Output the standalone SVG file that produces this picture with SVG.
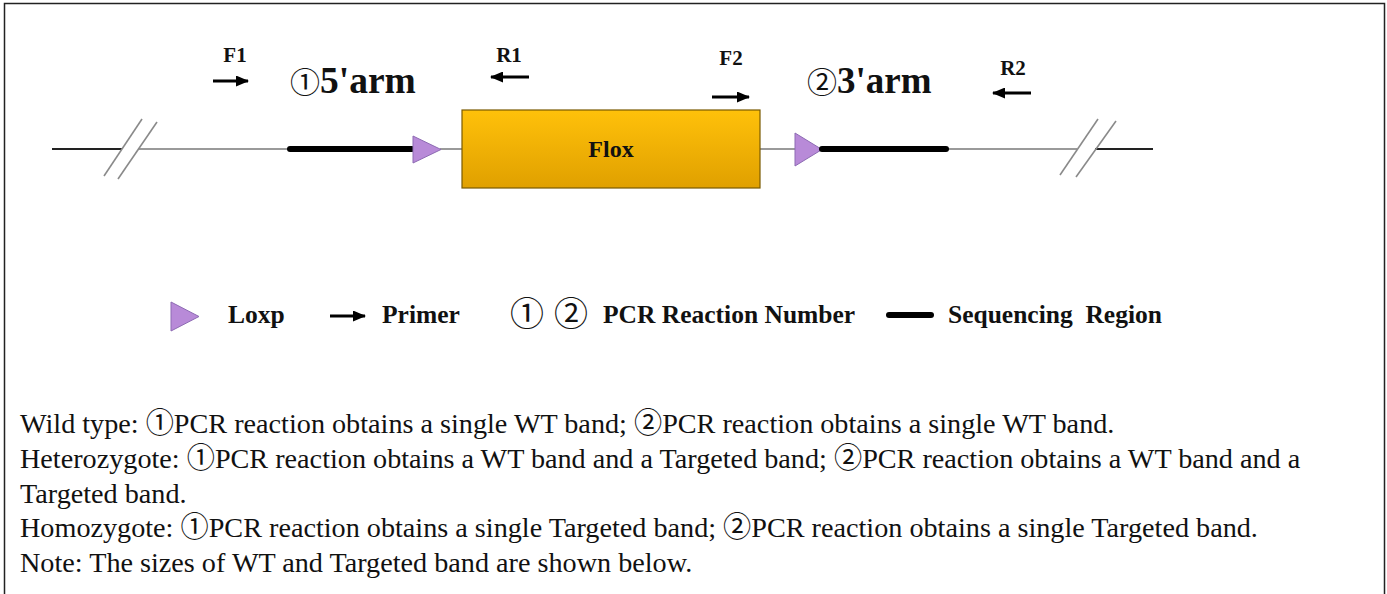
<svg xmlns="http://www.w3.org/2000/svg" width="1387" height="594" viewBox="0 0 1387 594">
<style>
.lbl{font-family:"Liberation Serif","Times New Roman",serif;font-weight:bold;fill:#111;}
.body{font-family:"Liberation Serif","Times New Roman","Noto Sans CJK SC",serif;font-size:28.2px;fill:#111;}
.circ{font-family:"Noto Sans CJK SC","DejaVu Sans",sans-serif;font-weight:normal;}
.gray{stroke:#9a9a9a;stroke-width:2;fill:none;}
.blk{stroke:#222;stroke-width:2;fill:none;}
.thick{stroke:#000;stroke-width:6;stroke-linecap:round;fill:none;}
.slash{stroke:#8a8a8a;stroke-width:1.6;fill:none;}
.loxp{fill:#b88ad8;stroke:#8d6bb3;stroke-width:1;}
.primer{stroke:#000;stroke-width:3;fill:none;marker-end:url(#ah);}
</style>
<defs>
<marker id="ah" markerUnits="userSpaceOnUse" markerWidth="13" markerHeight="11" refX="12" refY="5.5" orient="auto">
<path d="M0,0 L13,5.5 L0,11 Z" fill="#000"/>
</marker>
<linearGradient id="fg" x1="0" y1="0" x2="0" y2="1">
<stop offset="0" stop-color="#ffc10a"/>
<stop offset="1" stop-color="#e0a000"/>
</linearGradient>
</defs>
<rect x="4.5" y="3.5" width="1380" height="600" fill="#fff" stroke="#222" stroke-width="1.5"/>

<g id="connectors">
<line class="blk" x1="52" y1="149" x2="122" y2="149"/>
<line class="gray" x1="138" y1="149" x2="288" y2="149"/>
<line class="gray" x1="440" y1="149" x2="462" y2="149"/>
<line class="gray" x1="760" y1="149" x2="795" y2="149"/>
<line class="gray" x1="948" y1="149" x2="1077" y2="149"/>
<line class="blk" x1="1095" y1="149" x2="1153" y2="149"/>
<line class="slash" x1="142" y1="119" x2="104" y2="176"/>
<line class="slash" x1="157" y1="122" x2="118" y2="179"/>
<line class="slash" x1="1098" y1="119" x2="1060" y2="175"/>
<line class="slash" x1="1116" y1="121" x2="1076" y2="177"/>
</g>

<g id="arm5">
<line class="thick" x1="290" y1="149" x2="412" y2="149"/>
<text class="lbl" x="290" y="93" font-size="37.5"><tspan class="circ" font-size="30">①</tspan>5'arm</text>
</g>
<g id="loxp1"><polygon class="loxp" points="413,136 413,163 441,149.5"/></g>
<g id="flox">
<rect x="462" y="110" width="298" height="78" fill="url(#fg)" stroke="#7a5a00" stroke-width="1.2"/>
<text class="lbl" x="611" y="157" font-size="24" text-anchor="middle">Flox</text>
</g>
<g id="loxp2"><polygon class="loxp" points="795,133 795,166 822,149.5"/></g>
<g id="arm3">
<line class="thick" x1="822" y1="149" x2="946" y2="149"/>
<text class="lbl" x="807" y="93" font-size="37"><tspan class="circ" font-size="30">②</tspan>3'arm</text>
</g>

<g id="F1">
<text class="lbl" x="235" y="62" font-size="21" text-anchor="middle">F1</text>
<line class="primer" x1="213" y1="81" x2="248" y2="81"/>
</g>
<g id="R1">
<text class="lbl" x="509" y="62" font-size="21" text-anchor="middle">R1</text>
<line class="primer" x1="529" y1="77" x2="491" y2="77"/>
</g>
<g id="F2">
<text class="lbl" x="731" y="65" font-size="21" text-anchor="middle">F2</text>
<line class="primer" x1="712" y1="97" x2="749" y2="97"/>
</g>
<g id="R2">
<text class="lbl" x="1013" y="75" font-size="21" text-anchor="middle">R2</text>
<line class="primer" x1="1031" y1="93" x2="993" y2="93"/>
</g>

<g id="legend">
<polygon class="loxp" points="171,302 171,331 199,316.5"/>
<text class="lbl" x="228" y="323" font-size="25.5">Loxp</text>
<line class="primer" x1="330" y1="316" x2="365" y2="316"/>
<text class="lbl" x="382" y="323" font-size="25.5">Primer</text>
<text class="circ" x="510" y="326" font-size="34" fill="#111">①</text>
<text class="circ" x="554" y="326" font-size="34" fill="#111">②</text>
<text class="lbl" x="603" y="323" font-size="25.5">PCR Reaction Number</text>
<line class="thick" x1="889" y1="315" x2="931" y2="315" stroke-width="5"/>
<text class="lbl" x="948" y="323" font-size="25.5" xml:space="preserve">Sequencing  Region</text>
</g>

<g id="notes">
<text class="body" x="20" y="433">Wild type: ①PCR reaction obtains a single WT band; ②PCR reaction obtains a single WT band.</text>
<text class="body" x="20" y="468">Heterozygote: ①PCR reaction obtains a WT band and a Targeted band; ②PCR reaction obtains a WT band and a</text>
<text class="body" x="20" y="503">Targeted band.</text>
<text class="body" x="20" y="537">Homozygote: ①PCR reaction obtains a single Targeted band; ②PCR reaction obtains a single Targeted band.</text>
<text class="body" x="20" y="572">Note: The sizes of WT and Targeted band are shown below.</text>
</g>
</svg>
